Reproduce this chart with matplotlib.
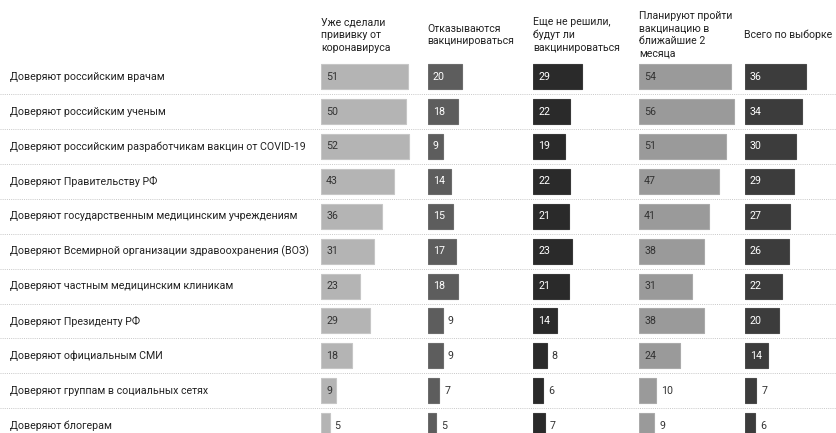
import matplotlib
matplotlib.use("Agg")
import matplotlib.pyplot as plt

plt.rcParams['font.family'] = ['Roboto', 'DejaVu Sans']

rows = [
    "Доверяют российским врачам",
    "Доверяют российским ученым",
    "Доверяют российским разработчикам вакцин от COVID-19",
    "Доверяют Правительству РФ",
    "Доверяют государственным медицинским учреждениям",
    "Доверяют Всемирной организации здравоохранения (ВОЗ)",
    "Доверяют частным медицинским клиникам",
    "Доверяют Президенту РФ",
    "Доверяют официальным СМИ",
    "Доверяют группам в социальных сетях",
    "Доверяют блогерам",
]

headers = [
    "Уже сделали\nпрививку от\nкоронавируса",
    "Отказываются\nвакцинироваться",
    "Еще не решили,\nбудут ли\nвакцинироваться",
    "Планируют пройти\nвакцинацию в\nближайшие 2\nмесяца",
    "Всего по выборке",
]

vaccinated = [51, 50, 52, 43, 36, 31, 23, 29, 18, 9, 5]
refuse = [20, 18, 9, 14, 15, 17, 18, 9, 9, 7, 5]
undecided = [29, 22, 19, 22, 21, 23, 21, 14, 8, 6, 7]
planning = [54, 56, 51, 47, 41, 38, 31, 38, 24, 10, 9]
total = [36, 34, 30, 29, 27, 26, 22, 20, 14, 7, 6]

series = [vaccinated, refuse, undecided, planning, total]

# value labels that sit to the right of their (short) bars: (column, row)
labels_outside = {(0, 10),
                  (1, 7), (1, 8), (1, 9), (1, 10),
                  (2, 8), (2, 9), (2, 10),
                  (3, 9), (3, 10),
                  (4, 9), (4, 10)}

bar_colors = ["#b4b4b4", "#5d5d5d", "#2a2a2a", "#9a9a9a", "#3c3c3c"]
edge_colors = ["#c6c6c6", "#6c6c6c", "#383838", "#aaaaaa", "#4a4a4a"]
inside_text = ["#333333", "#ffffff", "#ffffff", "#333333", "#ffffff"]

W, H, DPI = 836, 433, 100
fig = plt.figure(figsize=(W / DPI, H / DPI), dpi=DPI)
fig.patch.set_facecolor("white")

# vertical layout: row pitch and first row centre, in pixels
pitch = 34.9
first = 76.7
ytop = -first / pitch
ybot = (H - first) / pitch

px_per_unit = 1.7
col_left = [321, 427.5, 533, 639, 744.5]
col_w = 100
fs = 7.7

# background axes for row labels and dotted separators
base = fig.add_axes([0, 0, 1, 1])
base.set_xlim(0, W)
base.set_ylim(ybot, ytop)
base.axis("off")
for i, name in enumerate(rows):
    base.text(10, i, name, va="center", ha="left", fontsize=fs, color="#222222")
    if i < len(rows) - 1:
        base.axhline(i + 0.5, color="#c8c8c8", lw=0.7, ls=(0, (1, 1.2)))

bar_h = 25 / pitch
for j, vals in enumerate(series):
    ax = fig.add_axes([col_left[j] / W, 0, col_w / W, 1])
    ax.set_xlim(0, col_w / px_per_unit)
    ax.set_ylim(ybot, ytop)
    ax.axis("off")
    ax.patch.set_alpha(0)
    ypos = list(range(len(vals)))
    ax.barh(ypos, vals, height=bar_h, color=bar_colors[j],
            edgecolor=edge_colors[j], linewidth=0.8)
    for y, v in zip(ypos, vals):
        if (j, y) in labels_outside:
            ax.text(v + 3.0, y, str(v), va="center", ha="left", fontsize=fs,
                    color="#333333")
        else:
            ax.text(3.0, y, str(v), va="center", ha="left", fontsize=fs,
                    color=inside_text[j])
    ax.text(0, (35 - first) / pitch, headers[j], va="center", ha="left",
            fontsize=7.6, color="#222222", linespacing=1.32)

fig.savefig("out.png", dpi=DPI, facecolor="white")
